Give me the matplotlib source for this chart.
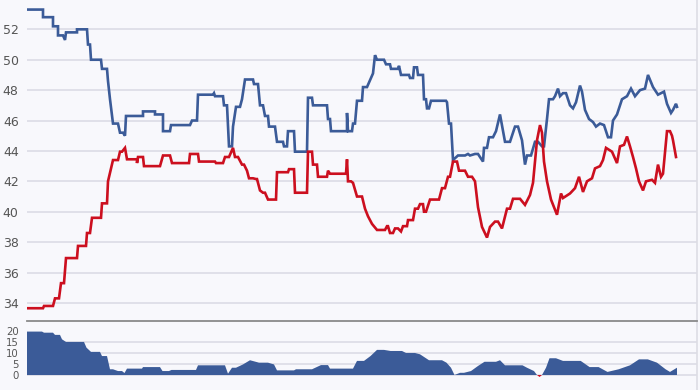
import matplotlib
matplotlib.use("Agg")
import matplotlib.pyplot as plt
import numpy as np

# ---- data (day index, value) ----
blue_days = [0,16,16,26,26,31,31,36,38,39,50,50,60,61,63,64,74,75,80,81,83,86,91,93,96,98,99,116,116,128,128,136,136,143,144,163,165,170,171,186,187,188,196,197,200,202,205,206,209,213,215,218,226,227,231,233,236,238,241,242,248,250,256,257,260,261,267,268,280,281,285,286,300,301,303,304,320,320,321,325,326,328,330,335,336,340,342,346,348,350,357,359,363,364,371,372,374,382,383,386,387,390,391,396,397,399,400,402,404,419,420,422,424,426,431,438,441,443,448,451,456,457,460,462,466,469,473,478,483,488,491,495,498,500,504,508,511,515,517,520,522,526,528,531,533,536,539,543,546,549,553,555,558,562,566,569,573,577,581,584,586,590,595,600,604,608,613,618,621,626,631,637,640,644,646,649,650]
blue_vals = [53.3,53.3,52.8,52.8,52.2,52.2,51.6,51.6,51.3,51.8,51.8,52.0,52.0,51.0,51.0,50.0,50.0,49.4,49.4,48.6,47.4,45.8,45.8,45.2,45.2,45.0,46.3,46.3,46.6,46.6,46.4,46.4,45.3,45.3,45.7,45.7,46.0,46.0,47.7,47.7,47.8,47.6,47.6,47.0,47.0,44.3,44.3,45.6,46.9,46.9,47.4,48.7,48.7,48.4,48.4,47.0,47.0,46.3,46.3,45.6,45.6,44.6,44.6,44.3,44.3,45.3,45.3,43.95,43.95,47.5,47.5,47.0,47.0,46.1,46.1,45.3,45.3,46.5,45.3,45.3,45.8,45.8,47.3,47.3,48.2,48.2,48.5,49.1,50.3,50.0,50.0,49.7,49.7,49.4,49.4,49.6,49.0,49.0,48.8,48.8,49.5,49.5,49.0,49.0,47.4,47.4,46.8,46.8,47.3,47.3,47.2,45.8,45.8,43.4,43.7,43.7,43.8,43.7,43.8,43.8,43.3,44.2,44.2,44.9,44.9,45.3,46.4,44.6,44.6,45.6,45.6,44.7,43.1,43.7,43.7,44.6,44.6,44.3,44.3,46.1,47.4,47.4,47.6,48.1,47.6,47.8,47.8,47.0,46.8,47.2,48.3,47.9,46.7,46.1,45.9,45.6,45.8,45.7,44.9,44.9,46.0,46.4,47.4,47.6,48.1,47.6,48.0,48.1,49.0,48.2,47.7,47.9,47.1,46.5,46.7,47.1,46.9]

red_days = [0,16,17,26,28,32,34,37,39,50,51,59,60,63,65,74,75,80,81,85,86,91,93,95,98,100,110,110,111,116,117,133,136,143,145,162,163,171,172,188,189,196,198,202,206,208,211,215,217,220,222,226,229,230,233,236,238,241,249,250,261,262,267,268,280,281,285,286,290,291,300,301,303,319,320,321,324,326,330,335,338,341,345,350,358,360,361,363,366,368,371,374,376,380,381,386,388,391,393,396,397,399,403,412,415,418,421,423,426,430,432,438,441,445,448,451,455,460,463,468,471,475,480,483,486,493,498,503,506,510,513,515,517,520,524,527,530,534,536,543,548,552,556,560,565,568,573,576,579,585,590,593,597,600,603,606,609,612,616,619,625,628,631,634,636,640,643,645,646,649]
red_vals = [33.65,33.65,33.8,33.8,34.3,34.3,35.3,35.3,36.95,36.95,37.75,37.75,38.6,38.6,39.6,39.6,40.55,40.55,42.0,43.1,43.4,43.4,43.95,43.95,44.2,43.45,43.45,43.2,43.6,43.6,43.0,43.0,43.7,43.7,43.2,43.2,43.8,43.8,43.3,43.3,43.2,43.2,43.6,43.6,44.2,43.6,43.6,43.1,43.1,42.7,42.2,42.2,42.15,42.15,41.4,41.25,41.25,40.8,40.8,42.6,42.6,42.8,42.8,41.25,41.25,43.95,43.95,43.1,43.1,42.3,42.3,42.7,42.5,42.5,43.45,42.0,42.0,41.9,41.0,41.0,40.2,39.7,39.2,38.8,38.8,39.05,39.05,38.6,38.6,38.9,38.9,38.7,39.05,39.05,39.45,39.45,40.2,40.2,40.5,40.5,40.0,40.0,40.8,40.8,41.55,41.55,42.3,42.3,43.3,43.3,42.7,42.7,42.3,42.3,42.0,40.3,39.0,38.3,39.0,39.35,39.35,38.9,40.2,40.2,40.85,40.85,40.45,41.1,41.9,44.7,45.7,45.2,43.3,42.0,40.8,40.3,39.8,41.2,40.9,41.2,41.55,42.3,41.3,42.0,42.2,42.85,43.0,43.4,44.2,43.95,43.2,44.3,44.4,44.95,44.3,43.6,42.85,42.0,41.4,42.0,42.1,41.9,43.1,42.3,42.5,45.3,45.3,45.0,44.7,43.6]

margin_days = [0,15,17,26,28,33,35,39,57,59.5,64,73,75,80,83,86,91,95,97.5,100,115,116,133,135.5,142,144.5,169,171,198,201,205,209,216,223,232,241,247,250,267,269,285,294,301,303,326,330,337,343.5,350,357,363.6,375,379,388,393,402,415,419.5,424,427.5,433,437,444,451,457.5,469,473,478,495.5,500,507,510,512.5,515,519,522.5,529,536,545,553.7,562.6,571.6,580.5,591.7,603,612,620.8,630,638.6,643,650]
margin_vals = [19.7,19.7,19.2,19.2,18.2,18.2,16.2,15.0,15.0,12.4,10.5,10.5,8.6,8.6,2.6,2.6,1.8,1.8,0.9,2.9,2.9,3.6,3.6,1.8,1.8,2.3,2.3,4.4,4.4,0.6,3.3,3.3,4.8,6.7,5.6,5.6,4.8,2.1,2.1,2.6,2.6,4.5,4.5,2.9,2.9,6.4,6.4,8.6,11.4,11.4,10.9,10.9,10.0,10.0,9.4,6.7,6.7,5.6,3.3,0.0,1.0,1.0,1.8,4.1,6.0,6.0,6.7,4.4,4.4,3.3,1.8,0.0,-0.9,0.0,3.3,7.6,7.6,6.4,6.4,6.4,3.6,3.6,1.4,2.6,4.4,7.1,7.1,5.6,2.6,1.4,3.3]

top_ticks = [34, 36, 38, 40, 42, 44, 46, 48, 50, 52]
bottom_ticks = [0, 5, 10, 15, 20]

# ---- style ----
BG = "#f8f8fc"
BLUE = "#3b5b98"
RED = "#cc0f1f"
GRID = "#dcdce6"
TXT = "#555555"

fig = plt.figure(figsize=(7, 3.9), dpi=100, facecolor=BG)
ax = fig.add_axes([27/700, 69/390, 670/700, 321/390], facecolor=BG)
ax2 = fig.add_axes([27/700, 0, 670/700, 69/390], facecolor=BG)

ax.plot(blue_days, blue_vals, color=BLUE, lw=1.9, solid_joinstyle="miter", zorder=3)
ax.plot(red_days, red_vals, color=RED, lw=1.9, solid_joinstyle="miter", zorder=3)
ax.set_xlim(0, 670)
ax.set_ylim(32.81, 53.93)
ax.set_yticks(top_ticks)
ax.set_yticklabels([str(t) for t in top_ticks])
ax.set_xticks([])
ax.grid(axis="y", color=GRID, lw=1.2, zorder=0)
for s in ["top", "left", "bottom"]:
    ax.spines[s].set_visible(False)
ax.spines["right"].set_color("#dddde4")
ax.spines["right"].set_linewidth(1.2)
ax.tick_params(axis="y", length=0, pad=6, labelsize=9, labelcolor=TXT)

md = np.array(margin_days, dtype=float)
mv = np.array(margin_vals, dtype=float)
ax2.fill_between(md, 0, mv, where=mv >= 0, interpolate=True, color=BLUE, lw=0, zorder=3)
ax2.fill_between(md, 0, mv, where=mv <= 0, interpolate=True, color=RED, lw=0, zorder=3)
ax2.set_xlim(0, 670)
ax2.set_ylim(-6.8, 24.5)
ax2.set_yticks(bottom_ticks)
ax2.set_yticklabels([str(t) for t in bottom_ticks])
ax2.set_xticks([])
for t in [0, 5, 10, 15]:
    ax2.axhline(t, color=GRID, lw=1.2, zorder=0)
for s in ["left", "bottom"]:
    ax2.spines[s].set_visible(False)
ax2.spines["top"].set_color("#8a8a8a")
ax2.spines["top"].set_linewidth(1.3)
ax2.spines["right"].set_color("#dddde4")
ax2.spines["right"].set_linewidth(1.2)
ax2.tick_params(axis="y", length=0, pad=6, labelsize=7.3, labelcolor=TXT)

fig.savefig("out.png", dpi=100, facecolor=BG)
